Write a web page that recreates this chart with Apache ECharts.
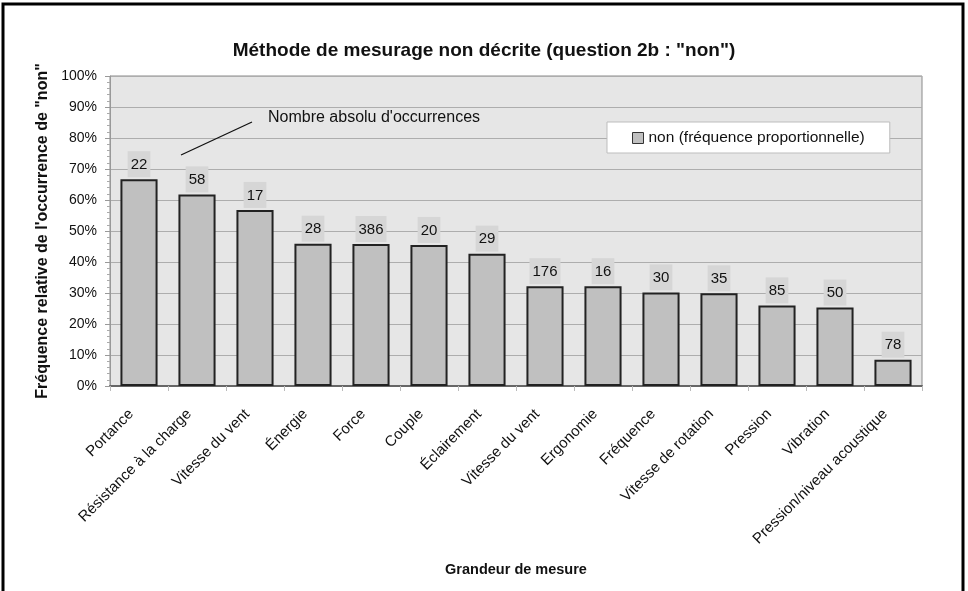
<!DOCTYPE html>
<html>
<head>
<meta charset="utf-8">
<script src="https://cdn.jsdelivr.net/npm/echarts@6/dist/echarts.min.js"></script>
<style>html,body{margin:0;padding:0;background:#fff;}#c{width:968px;height:591px;}</style>
</head>
<body>
<div id="c"></div>
<script>
var categories = ['Portance', 'Résistance à la charge', 'Vitesse du vent', 'Énergie', 'Force', 'Couple', 'Éclairement', 'Vitesse du vent', 'Ergonomie', 'Fréquence', 'Vitesse de rotation', 'Pression', 'Vibration', 'Pression/niveau acoustique'];
var frequencies = [66.7, 61.8, 56.8, 45.9, 45.8, 45.5, 42.7, 32.2, 32.2, 30.2, 29.9, 26.0, 25.3, 8.5];
var counts = [22, 58, 17, 28, 386, 20, 29, 176, 16, 30, 35, 85, 50, 78];
var yTicks = [0, 10, 20, 30, 40, 50, 60, 70, 80, 90, 100];

var chart = echarts.init(document.getElementById('c'));
var font = 'Liberation Sans, Arial, sans-serif';
chart.setOption({
  animation: false,
  textStyle: { fontFamily: font },
  title: {
    text: 'Méthode de mesurage non décrite (question 2b : "non")',
    left: 'center', top: 36,
    textStyle: { fontFamily: font, fontSize: 19, fontWeight: 'bold', color: '#111' }
  },
  legend: {
    left: 607, top: 122,
    padding: [8, 25, 7, 25],
    backgroundColor: '#ffffff',
    borderColor: '#bdbdbd', borderWidth: 1,
    itemWidth: 11, itemHeight: 11, itemGap: 4,
    textStyle: { fontFamily: font, fontSize: 15.5, color: '#111' },
    data: [{ name: 'non (fréquence proportionnelle)', icon: 'rect',
      itemStyle: { color: '#c0c0c0', borderColor: '#333', borderWidth: 1 } }]
  },
  grid: {
    left: 110, right: 46, top: 76, bottom: 205,
    show: true, backgroundColor: '#e6e6e6', borderColor: '#8a8a8a', borderWidth: 1
  },
  xAxis: {
    type: 'category',
    data: categories,
    name: 'Grandeur de mesure',
    nameLocation: 'middle', nameGap: 176,
    nameTextStyle: { fontFamily: font, fontSize: 14.5, fontWeight: 'bold', color: '#111' },
    axisLine: { lineStyle: { color: '#666', width: 2 } },
    axisTick: { show: true, alignWithLabel: false, length: 5, lineStyle: { color: '#bbb' } },
    axisLabel: { rotate: 45, interval: 0, fontSize: 15, color: '#111', margin: 18, padding: [0, 11, 0, 0] }
  },
  yAxis: {
    type: 'value', min: 0, max: 100, interval: 10,
    name: 'Fréquence relative de l\'occurrence de "non"',
    nameLocation: 'middle', nameGap: 58,
    nameTextStyle: { fontFamily: font, fontSize: 16, fontWeight: 'bold', color: '#111' },
    axisLine: { show: true, lineStyle: { color: '#999' } },
    axisTick: { show: true, length: 5, lineStyle: { color: '#999' } },
    minorTick: { show: true, splitNumber: 5, length: 3, lineStyle: { color: '#aaa' } },
    splitLine: { show: true, lineStyle: { color: '#adadad', width: 1 } },
    axisLabel: { fontSize: 14, color: '#111', margin: 13,
      formatter: function (v) { return yTicks.indexOf(v) >= 0 ? v + '%' : ''; } }
  },
  series: [{
    type: 'bar',
    name: 'non (fréquence proportionnelle)',
    data: frequencies,
    barCategoryGap: '36%',
    itemStyle: { color: '#c0c0c0', borderColor: '#222', borderWidth: 2 },
    label: {
      show: true, position: 'top', distance: 2,
      backgroundColor: '#d6d6d6', padding: [6, 3, 5, 3],
      fontSize: 15, color: '#111',
      formatter: function (p) { return String(counts[p.dataIndex]); }
    }
  }],
  graphic: [
    { type: 'rect', shape: { x: 3, y: 4, width: 960, height: 600 },
      style: { fill: 'none', stroke: '#000', lineWidth: 3 }, silent: true, z: 100 },
    { type: 'line', shape: { x1: 181, y1: 155, x2: 252, y2: 122 },
      style: { stroke: '#111', lineWidth: 1.3 }, z: 50 },
    { type: 'text', left: 268, top: 110,
      style: { text: "Nombre absolu d'occurrences", font: '16px ' + font, fill: '#111' }, z: 50 }
  ]
});
</script>
</body>
</html>
